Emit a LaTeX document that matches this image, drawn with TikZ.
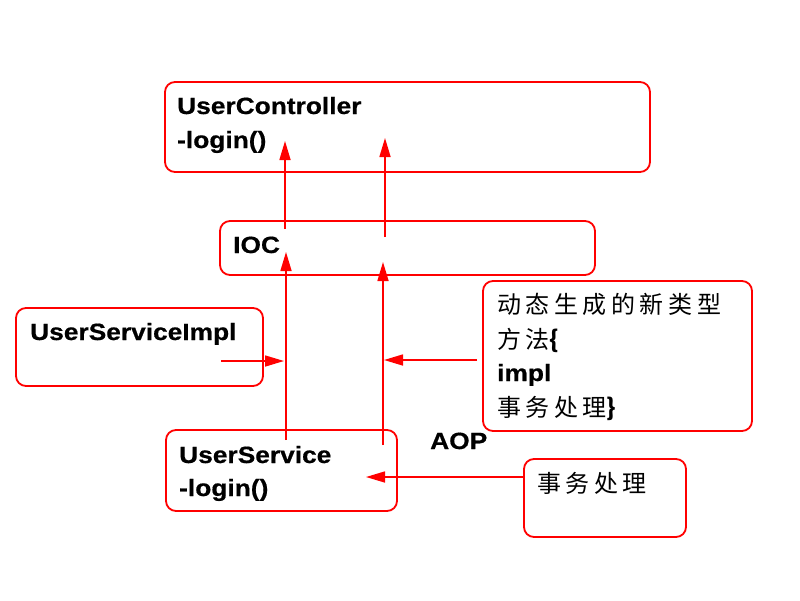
\documentclass[tikz,border=0pt]{standalone}
\usepackage{fontspec}
\setmainfont{Liberation Sans}[BoldFeatures={FakeStretch=1.12,FakeBold=0.6}]
\newfontfamily\cjk[LetterSpace=19]{Noto Sans CJK SC}
\usetikzlibrary{arrows.meta}
\begin{document}
\begin{tikzpicture}[x=1pt,y=-1pt,
  box/.style={draw=red,line width=1.8pt,rounded corners=10pt},
  lbl/.style={anchor=base west,inner sep=0pt,font=\fontsize{23.5}{27}\selectfont\bfseries},
  clbl/.style={anchor=base west,inner sep=0pt,font=\fontsize{24}{28}\selectfont\cjk},
  arr/.style={draw=red,line width=1.6pt,-{Triangle[length=19pt,width=11pt]}}]
\useasboundingbox (0,0) rectangle (800,600);
% boxes
\draw[box] (165,82) rectangle (650,172);
\draw[box] (220,221) rectangle (595,275);
\draw[box] (16,308) rectangle (263,386);
\draw[box] (166,430) rectangle (397,511);
\draw[box] (483,281) rectangle (752,431);
\draw[box] (524,459) rectangle (686,537);
% texts
\node[lbl] (uc1) at (177,114) {UserController};
\node[lbl] (uc2) at (177,148) {-login()};
\node[lbl] (ioc) at (233,253) {IOC};
\node[lbl] (usi) at (30,340) {UserServiceImpl};
\node[lbl] (us1) at (179,463) {UserService};
\node[lbl] (us2) at (179,496) {-login()};
\node[lbl] (aop) at (430,449) {AOP};
\node[clbl] (d1) at (497,313) {动态生成的新类型};
\node[clbl] (d2) at (497,348) {方法{\bfseries\{}};
\node[lbl] (d3) at (497,381) {impl};
\node[clbl] (d4) at (497,416) {事务处理{\bfseries\}}};
\node[clbl] (t1) at (537,492) {事务处理};
% connector points
\coordinate (a1s) at (286,440); \coordinate (a1e) at (286,252);
\coordinate (a2s) at (383,445); \coordinate (a2e) at (383,262);
\coordinate (a3s) at (285,229); \coordinate (a3e) at (285,141);
\coordinate (a4s) at (385,237); \coordinate (a4e) at (385,138);
\coordinate (h1s) at (221,361); \coordinate (h1e) at (284,361);
\coordinate (h2s) at (477,360); \coordinate (h2e) at (384,360);
\coordinate (h3s) at (524,477); \coordinate (h3e) at (366,477);
\draw[arr] (a1s) -- (a1e);
\draw[arr] (a2s) -- (a2e);
\draw[arr] (a3s) -- (a3e);
\draw[arr] (a4s) -- (a4e);
\draw[arr] (h1s) -- (h1e);
\draw[arr] (h2s) -- (h2e);
\draw[arr] (h3s) -- (h3e);
\end{tikzpicture}
\end{document}
